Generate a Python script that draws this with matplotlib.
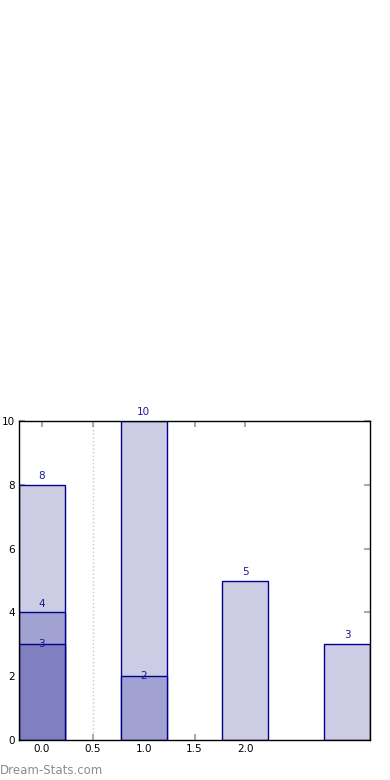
import matplotlib
matplotlib.use('Agg')
import matplotlib.pyplot as plt

# data: overlapping bars drawn back to front (light, mid, dark)
xpos = [0, 1, 2, 3]
light = [8, 10, 5, 3]
mid = [4, 2, None, None]
dark = [3, None, None, None]
xticks = [0.0, 0.5, 1.0, 1.5, 2.0]
yticks = [0, 2, 4, 6, 8, 10]

edge = '#00008b'
txtc = '#1a1a9a'
w = 0.45

fig = plt.figure(figsize=(3.9, 7.8), dpi=100)
ax = fig.add_axes([19/390, 40/780, 351/390, 319/780])

ax.axvline(0.5, color='#c8c8c8', linestyle=':', linewidth=1, zorder=0)

layers = [(light, '#cccce4'), (mid, '#a2a2d2'), (dark, '#8080c0')]
for vals, col in layers:
    for x, v in zip(xpos, vals):
        if v is None:
            continue
        ax.bar(x, v, width=w, color=col, edgecolor=edge, linewidth=1, zorder=2)
        # labels sit above the bar top, unless the bar is too short to clear the next one
        inner = (col != '#cccce4') and v <= 3
        if inner:
            ax.text(x, v, str(v), ha='center', va='center', color=txtc, fontsize=7.5, zorder=5)
        else:
            ax.text(x, v + 0.12, str(v), ha='center', va='bottom', color=txtc, fontsize=7.5, zorder=5)

ax.set_xlim(-0.225, 3.225)
ax.set_ylim(0, 10)
ax.set_xticks(xticks)
ax.set_xticklabels([f'{t:.1f}' for t in xticks])
ax.set_yticks(yticks)
ax.tick_params(axis='both', direction='in', color='#aaaaaa', width=1.5, length=4,
               labelsize=7.5, top=True, right=True, pad=3)
for s in ax.spines.values():
    s.set_linewidth(1)
    s.set_zorder(6)

fig.text(0.0, 10/780, 'Dream-Stats.com', color='#8c8c8c', fontsize=8.5,
         ha='left', va='center')

fig.savefig('out.png', dpi=100, facecolor='w')
